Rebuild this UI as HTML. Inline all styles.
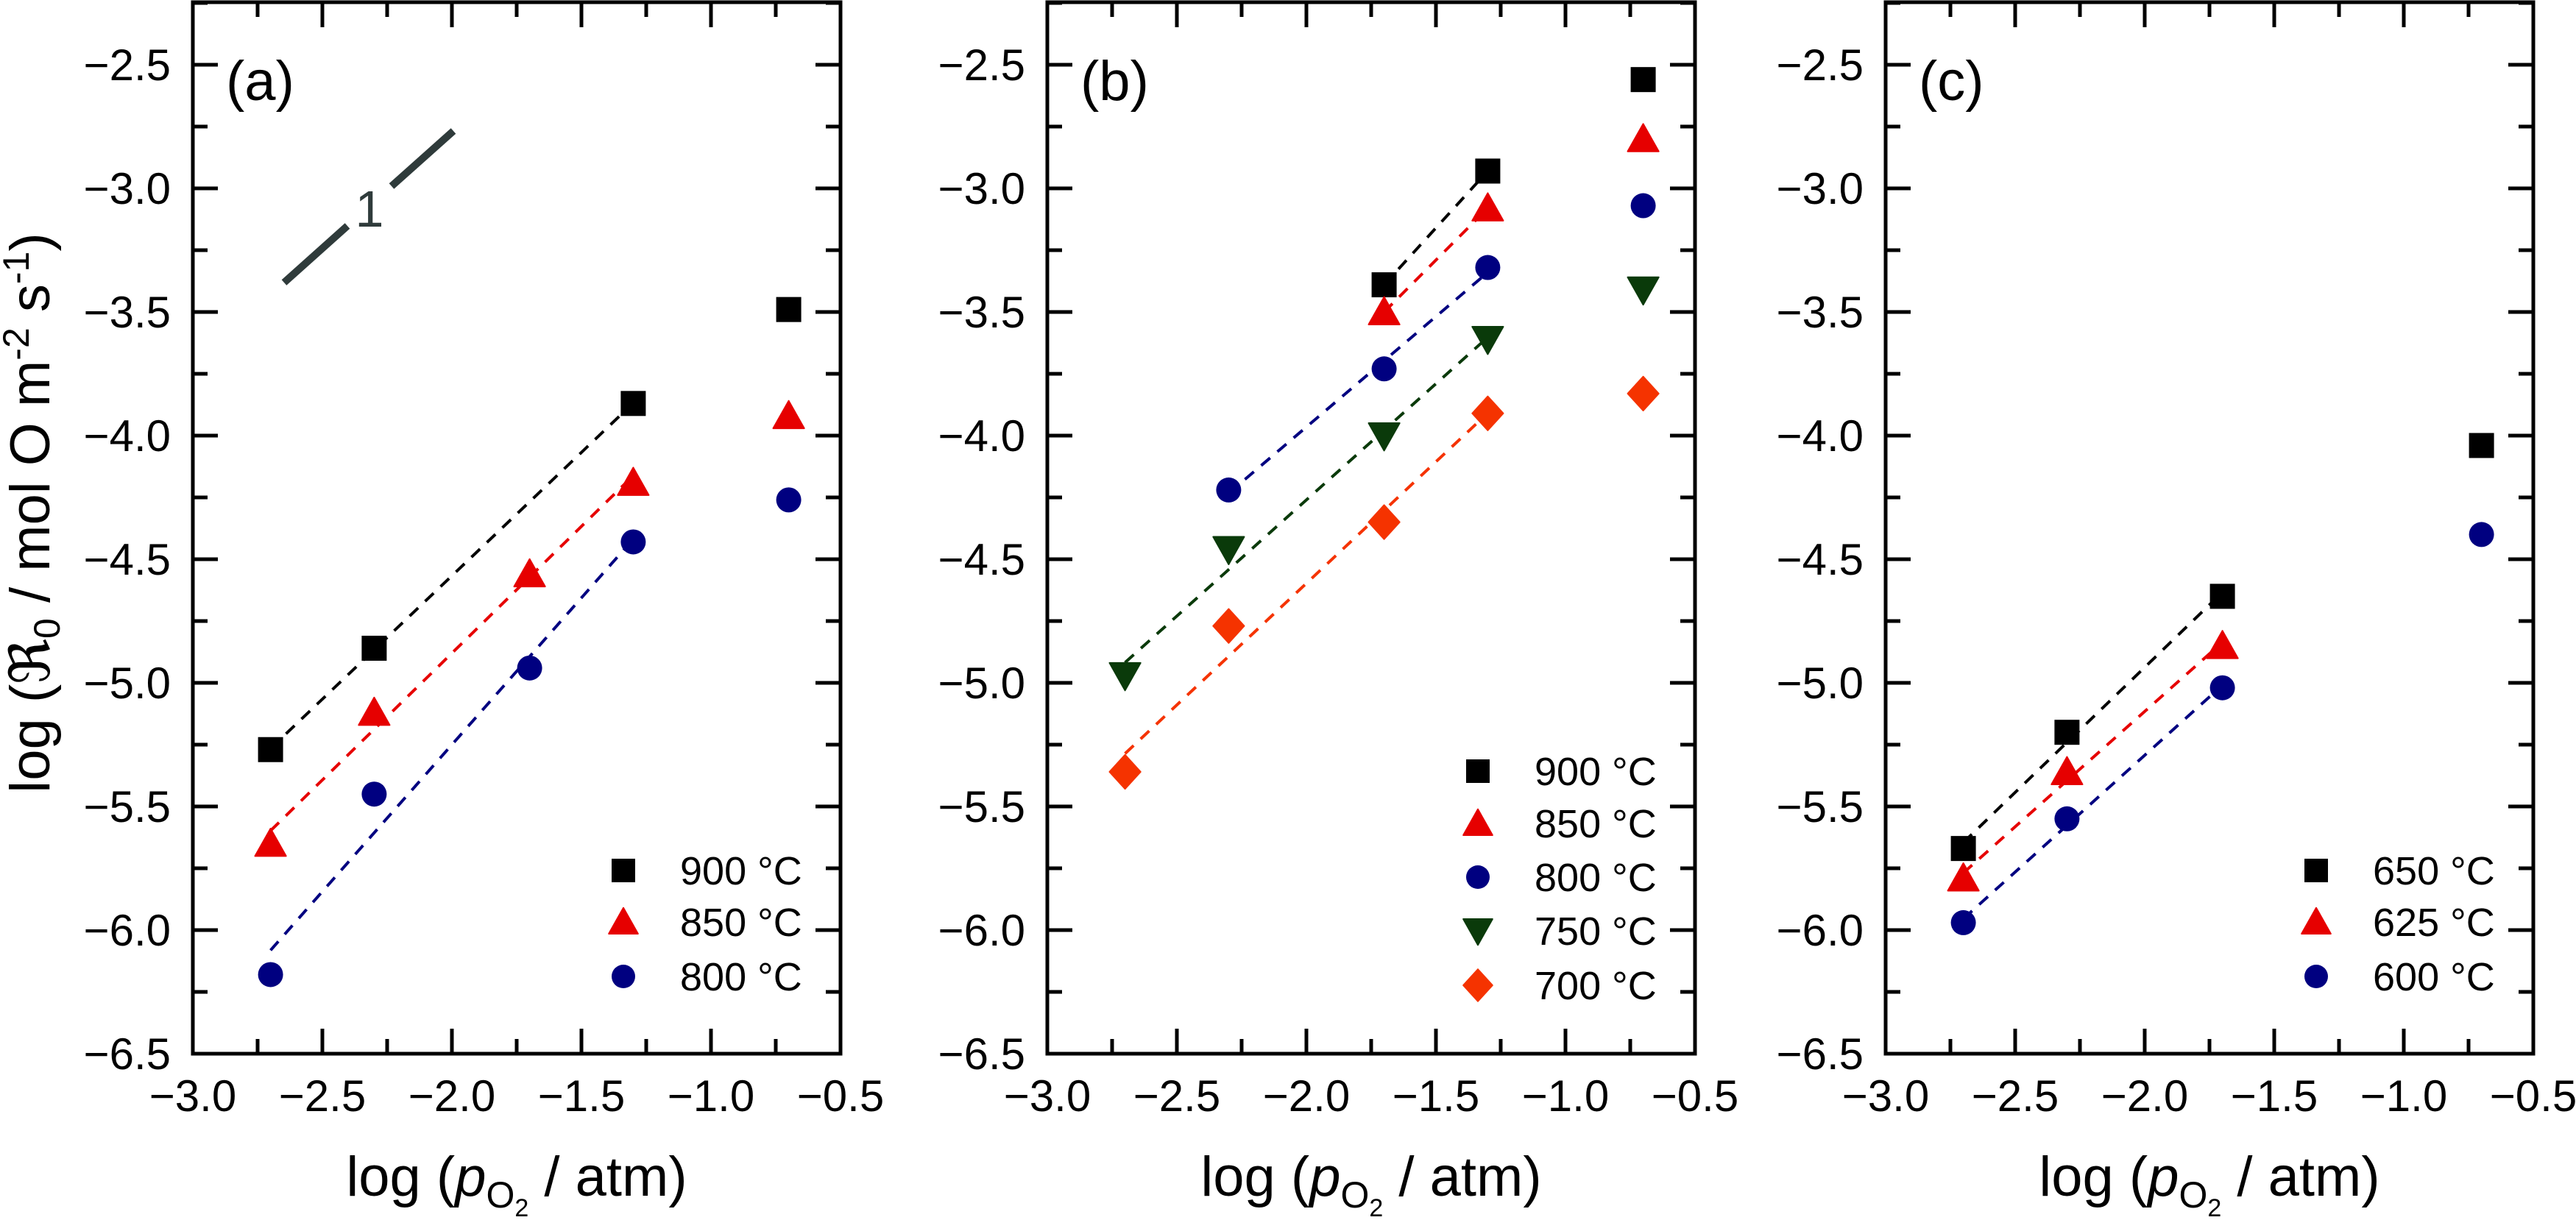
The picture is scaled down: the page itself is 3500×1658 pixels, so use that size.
<!DOCTYPE html>
<html><head><meta charset="utf-8"><style>
html,body{margin:0;padding:0;background:#fff;}
svg{display:block;font-family:"Liberation Sans","DejaVu Sans",sans-serif;}
</style></head><body>
<svg id="chart" width="3500" height="1658" viewBox="0 0 3500 1658" xmlns="http://www.w3.org/2000/svg"></svg>
<script>
// ---- data ----
const xTicks = [-3.0, -2.5, -2.0, -1.5, -1.0, -0.5];
const yTicks = [-2.5, -3.0, -3.5, -4.0, -4.5, -5.0, -5.5, -6.0, -6.5];
const xTickLabels = ["−3.0","−2.5","−2.0","−1.5","−1.0","−0.5"];
const yTickLabels = ["−2.5","−3.0","−3.5","−4.0","−4.5","−5.0","−5.5","−6.0","−6.5"];
const xVals = [-2.7, -2.3, -1.7, -1.3, -0.7];
// panel a
const a900 = [-5.27, -4.86, null, -3.87, -3.49];
const a850 = [-5.65, -5.12, -4.56, -4.19, -3.92];
const a800 = [-6.18, -5.45, -4.94, -4.43, -4.26];
// panel b
const b900 = [null, null, -3.39, -2.93, -2.56];
const b850 = [null, null, -3.50, -3.08, -2.80];
const b800 = [null, -4.22, -3.73, -3.32, -3.07];
const b750 = [-4.97, -4.46, -4.00, -3.61, -3.41];
const b700 = [-5.36, -4.77, -4.35, -3.91, -3.83];
// panel c
const c650 = [-5.67, -5.20, -4.65, null, -4.04];
const c625 = [-5.79, -5.36, -4.85, null, null];
const c600 = [-5.97, -5.55, -5.02, null, -4.40];
const fitMaxA = -1.3, fitMaxB = -1.3, fitMaxC = -1.7;

const NS = "http://www.w3.org/2000/svg";
const svg = document.getElementById('chart');
function el(tag, attrs, parent){
  const e = document.createElementNS(NS, tag);
  for (const k in attrs) e.setAttribute(k, attrs[k]);
  (parent||svg).appendChild(e); return e;
}
const COLORS = {sq:"#000000", tri:"#e60000", cir:"#000080", inv:"#0a3a0a", dia:"#f53300"};
const Y0 = 1432, YPU = 336, XMIN = -3.0, XPU = 352;
function makePanel(left){
  return {left, right:left+880,
    x: v => left + (v - XMIN) * XPU,
    y: v => Y0 - (v + 6.5) * YPU};
}
function marker(g, shape, cx, cy, s, name){
  let m;
  const c = COLORS[shape];
  if (shape==="sq") m = el('rect',{x:cx-s/2,y:cy-s/2,width:s,height:s,fill:c},g);
  else if (shape==="cir") m = el('circle',{cx:cx,cy:cy,r:s/2,fill:c},g);
  else if (shape==="tri") m = el('polygon',{points:`${cx-s*0.62},${cy+s*0.5} ${cx+s*0.62},${cy+s*0.5} ${cx},${cy-s*0.6}`,fill:c,'stroke':c,'stroke-width':2,'stroke-linejoin':'round'},g);
  else if (shape==="inv") m = el('polygon',{points:`${cx-s*0.62},${cy-s*0.5} ${cx+s*0.62},${cy-s*0.5} ${cx},${cy+s*0.6}`,fill:c,'stroke':c,'stroke-width':2,'stroke-linejoin':'round'},g);
  else m = el('polygon',{points:`${cx},${cy-s*0.68} ${cx+s*0.62},${cy} ${cx},${cy+s*0.68} ${cx-s*0.62},${cy}`,fill:c,'stroke':c,'stroke-width':2,'stroke-linejoin':'round'},g);
  
  
  return m;
}
function fitLine(g, P, vals, shape, fitMax, name){
  const xs=[], ys=[];
  xVals.forEach((x,i)=>{ if(vals[i]!==null && x<=fitMax+1e-9){xs.push(x);ys.push(vals[i]);} });
  const n=xs.length; const mx=xs.reduce((a,b)=>a+b,0)/n, my=ys.reduce((a,b)=>a+b,0)/n;
  let sxy=0,sxx=0; for(let i=0;i<n;i++){sxy+=(xs[i]-mx)*(ys[i]-my);sxx+=(xs[i]-mx)**2;}
  const k=sxy/sxx, b=my-k*mx;
  const x1=Math.min(...xs), x2=Math.max(...xs);
  const l = el('line',{x1:P.x(x1),y1:P.y(k*x1+b),x2:P.x(x2),y2:P.y(k*x2+b),stroke:COLORS[shape],'stroke-width':4,'stroke-dasharray':'16 13'},g);
  
  
}
function series(g, P, vals, shape, fitMax, name){
  fitLine(g, P, vals, shape, fitMax, name+'-fit');
  xVals.forEach((x,i)=>{ if(vals[i]!==null) marker(g, shape, P.x(x), P.y(vals[i]), 34, name+'-point'); });
}
function axes(g, P, label, labelName){
  const f = el('rect',{x:P.left,y:3,width:880,height:Y0-3,fill:'none',stroke:'#000','stroke-width':5},g);
  
  
  // x ticks
  for (let v=-2.75; v<-0.5; v+=0.25){
    const major = Math.abs(v*2-Math.round(v*2))<1e-6;
    const L = major?34:20, xx=P.x(v);
    el('line',{x1:xx,y1:Y0,x2:xx,y2:Y0-L,stroke:'#000','stroke-width':5},g);
    el('line',{x1:xx,y1:3,x2:xx,y2:3+L,stroke:'#000','stroke-width':5},g);
  }
  for (let v=-6.25; v<-2.2; v+=0.25){
    const major = Math.abs(v*2-Math.round(v*2))<1e-6;
    const L = major?34:20, yy=P.y(v);
    el('line',{x1:P.left,y1:yy,x2:P.left+L,y2:yy,stroke:'#000','stroke-width':5},g);
    el('line',{x1:P.right,y1:yy,x2:P.right-L,y2:yy,stroke:'#000','stroke-width':5},g);
  }
  xTicks.forEach((v,i)=>{
    const t = el('text',{x:P.x(v),y:1510,'font-size':60,'text-anchor':'middle'},g);
    t.textContent = xTickLabels[i];
    
    
  });
  yTicks.forEach((v,i)=>{
    const t = el('text',{x:P.left-30,y:P.y(v)+21,'font-size':60,'text-anchor':'end'},g);
    t.textContent = yTickLabels[i];
    
    
  });
  const pl = el('text',{x:P.left+45,y:136,'font-size':76},g);
  pl.textContent = label;
  
  
  // x title
  const xt = el('text',{x:(P.left+P.right)/2,y:1625,'font-size':76,'text-anchor':'middle'},g);
  
  
  xt.innerHTML = 'log (<tspan font-style="italic">p</tspan><tspan font-size="50" dy="16">O</tspan><tspan font-size="34" dy="12">2</tspan><tspan dy="-28"> / atm)</tspan>';
}
function legend(g, P, entries){
  const rowY = entries.length===3 ? [1183,1253,1327] : [1048,1119,1192,1265,1339];
  entries.forEach((e,i)=>{
    const lg = el('g',{},g);
    
    
    marker(lg, e[0], P.right-295, rowY[i], 32, 'legend-marker');
    const t = el('text',{x:P.right-218,y:rowY[i]+19,'font-size':54},lg);
    t.textContent = e[1];
  });
}
// Panel a
const PA = makePanel(262), PB = makePanel(1423), PC = makePanel(2562);
const ga = el('g',{});  
axes(ga, PA, '(a)', 'panel-a-label');
series(ga, PA, a900, 'sq', fitMaxA, 'a-900C');
series(ga, PA, a850, 'tri', fitMaxA, 'a-850C');
series(ga, PA, a800, 'cir', fitMaxA, 'a-800C');
legend(ga, PA, [['sq','900 °C'],['tri','850 °C'],['cir','800 °C']]);
// slope marker
const sm = el('g',{},ga);  
el('line',{x1:386,y1:384,x2:472,y2:307,stroke:'#2f3b3b','stroke-width':10},sm);
el('line',{x1:532,y1:253,x2:616,y2:178,stroke:'#2f3b3b','stroke-width':10},sm);
const one = el('text',{x:502,y:308,'font-size':70,'text-anchor':'middle',fill:'#2f3b3b'},sm); one.textContent='1';
// Panel b
const gb = el('g',{});  
axes(gb, PB, '(b)', 'panel-b-label');
series(gb, PB, b900, 'sq', fitMaxB, 'b-900C');
series(gb, PB, b850, 'tri', fitMaxB, 'b-850C');
series(gb, PB, b800, 'cir', fitMaxB, 'b-800C');
series(gb, PB, b750, 'inv', fitMaxB, 'b-750C');
series(gb, PB, b700, 'dia', fitMaxB, 'b-700C');
legend(gb, PB, [['sq','900 °C'],['tri','850 °C'],['cir','800 °C'],['inv','750 °C'],['dia','700 °C']]);
// Panel c
const gc = el('g',{});  
axes(gc, PC, '(c)', 'panel-c-label');
series(gc, PC, c650, 'sq', fitMaxC, 'c-650C');
series(gc, PC, c625, 'tri', fitMaxC, 'c-625C');
series(gc, PC, c600, 'cir', fitMaxC, 'c-600C');
legend(gc, PC, [['sq','650 °C'],['tri','625 °C'],['cir','600 °C']]);
// y title
const yt = el('text',{x:0,y:0,'font-size':76,'text-anchor':'middle',transform:'translate(67,697) rotate(-90)'});


yt.innerHTML = 'log (ℜ<tspan font-size="50" dy="14">0</tspan><tspan dy="-14"> / mol O m</tspan><tspan font-size="50" dy="-28">-2</tspan><tspan dy="28"> s</tspan><tspan font-size="50" dy="-28">-1</tspan><tspan dy="28">)</tspan>';
</script>
</body></html>
